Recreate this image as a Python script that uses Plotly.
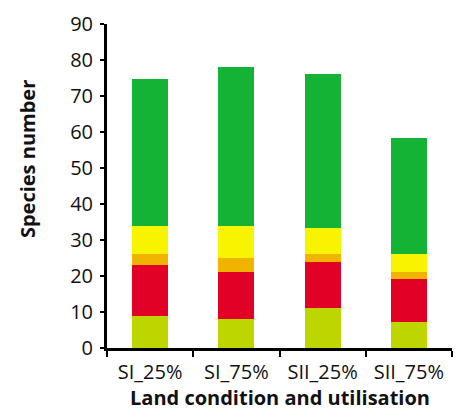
import plotly.graph_objects as go

categories = ["SI_25%", "SI_75%", "SII_25%", "SII_75%"]

# stacked groups, bottom to top
lime_vals = [9, 8, 11, 7.2]
red_vals = [14, 13, 13, 12]
orange_vals = [3, 4, 2.2, 1.9]
yellow_vals = [7.9, 8.9, 7, 5]
green_vals = [40.8, 44.2, 42.9, 32.2]

series = [
    (lime_vals, "#BED600"),
    (red_vals, "#E10026"),
    (orange_vals, "#F0B400"),
    (yellow_vals, "#F8F400"),
    (green_vals, "#14B335"),
]

y_ticks = list(range(0, 91, 10))

fig = go.Figure()
for vals, color in series:
    fig.add_trace(go.Bar(x=categories, y=vals, marker=dict(color=color, line=dict(width=0)),
                         showlegend=False))

font_family = "Open Sans, Lato, sans-serif"
fig.update_layout(
    barmode="stack",
    bargap=0.58,
    width=461,
    height=412,
    margin=dict(l=107, r=9, t=24, b=64),
    paper_bgcolor="white",
    plot_bgcolor="white",
    font=dict(family=font_family, color="#111111", size=20),
    xaxis=dict(
        automargin=False,
        showline=True, linecolor="black", linewidth=3,
        ticks="outside", tickson="boundaries", ticklen=6, tickwidth=1.5, tickcolor="black",
        tickfont=dict(size=20), ticklabelstandoff=4,
        showgrid=False,
    ),
    yaxis=dict(
        automargin=False,
        range=[0, 90], tickvals=y_ticks,
        showline=True, linecolor="black", linewidth=3,
        ticks="outside", ticklen=4, tickwidth=1.5, tickcolor="black",
        tickfont=dict(size=20), ticklabelstandoff=3,
        showgrid=False, zeroline=False,
    ),
    annotations=[
        dict(text="<b>Species number</b>", textangle=-90, showarrow=False,
             xref="paper", yref="paper", x=-0.232, y=0.583,
             xanchor="center", yanchor="middle", font=dict(size=20)),
        dict(text="<b>Land condition and utilisation</b>", showarrow=False,
             xref="paper", yref="paper", x=0.501, y=-0.152,
             xanchor="center", yanchor="middle", font=dict(size=20)),
    ],
)

fig.write_html("out.html")
